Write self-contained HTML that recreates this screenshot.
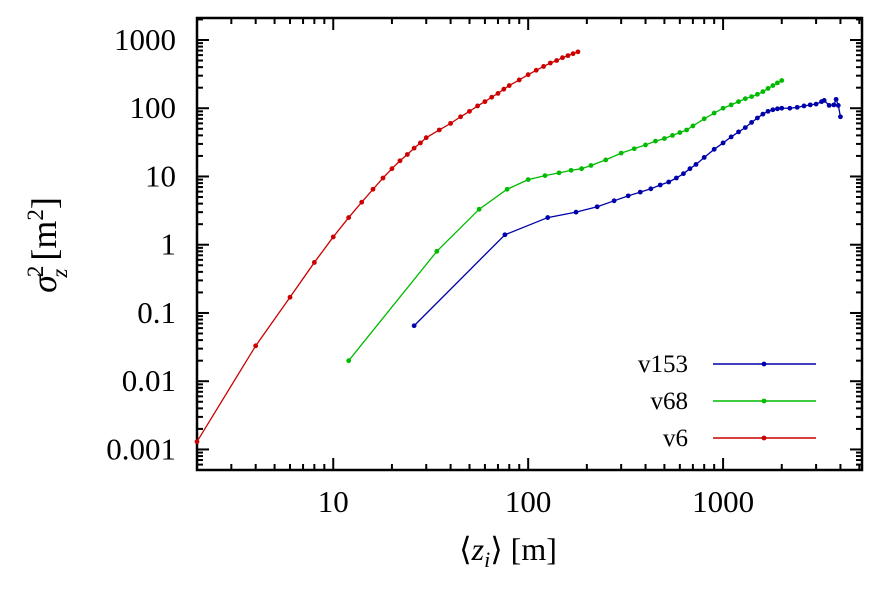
<!DOCTYPE html>
<html><head><meta charset="utf-8"><style>
body{margin:0;background:#fff}
svg, svg text{font-family:"Liberation Serif","Times New Roman",Times,serif}
svg text{fill:#000}
</style></head><body>
<svg id="c" width="880" height="588" font-family="Liberation Serif, Times New Roman, serif"></svg>
<script>
const redX=[2,4,6,8,10,12,14,16,18,20,22,24,26,28,30,35,40,45,50,55,60,65,70,75,80,90,100,110,120,130,140,150,160,170,180];
const redY=[0.0013,0.033,0.17,0.55,1.3,2.5,4.2,6.5,9.5,13,17,21,26,31,37,48,60,75,90,108,125,145,165,190,215,260,310,360,410,460,500,550,590,630,670];
const greenX=[12,34,56,78,100,122,144,166,188,210,250,300,350,400,450,500,550,600,650,700,800,900,1000,1100,1200,1300,1400,1500,1600,1700,1800,1900,2000];
const greenY=[0.02,0.8,3.3,6.5,9,10.3,11.3,12.3,13,14.5,17.5,22,25.5,29,33,36,40,44,48,55,70,85,100,112,125,138,148,160,175,195,215,235,255];
const blueX=[26,76,126,176,226,276,326,376,426,476,526,576,626,676,726,800,900,1000,1100,1200,1300,1400,1500,1600,1700,1800,1900,2000,2200,2400,2600,2800,3000,3200,3300,3500,3700,3800,3900,4000];
const blueY=[0.065,1.4,2.5,3,3.6,4.4,5.2,5.9,6.6,7.5,8.3,9.5,11,13,15,19,25,31,38,45,52,62,72,82,90,95,98,100,100,103,108,112,115,125,130,110,112,135,110,75];
const xTicks=[10,100,1000], xTickLabels=["10","100","1000"];
const yTicks=[0.001,0.01,0.1,1,10,100,1000], yTickLabels=["0.001","0.01","0.1","1","10","100","1000"];
const L=197,R=862,T=18,B=470,xmin=2,xmax=5160,ymin=0.0005,ymax=2100;
const sx=v=>L+(Math.log10(v)-Math.log10(xmin))/(Math.log10(xmax)-Math.log10(xmin))*(R-L);
const sy=v=>B-(Math.log10(v)-Math.log10(ymin))/(Math.log10(ymax)-Math.log10(ymin))*(B-T);
const svg=document.getElementById('c');const NS='http://www.w3.org/2000/svg';
function mk(t,a,p){const e=document.createElementNS(NS,t);for(const k in a)e.setAttribute(k,a[k]);(p||svg).appendChild(e);return e;}
for(let d=0;d<=3;d++)for(let m=1;m<10;m++){const v=m*Math.pow(10,d);if(v<xmin||v>xmax)continue;const x=sx(v),len=m==1?12:6;
const t=mk('line',{x1:x,x2:x,y1:B,y2:B-len,stroke:'#000','stroke-width':2});
const t2=mk('line',{x1:x,x2:x,y1:T,y2:T+len,stroke:'#000','stroke-width':2});}
for(let d=-4;d<=3;d++)for(let m=1;m<10;m++){const v=m*Math.pow(10,d);if(v<ymin||v>ymax)continue;const y=sy(v),len=m==1?12:6;
const t=mk('line',{x1:L,x2:L+len,y1:y,y2:y,stroke:'#000','stroke-width':2});
const t2=mk('line',{x1:R,x2:R-len,y1:y,y2:y,stroke:'#000','stroke-width':2});}
xTicks.forEach((v,i)=>{const t=mk('text',{x:sx(v),y:512,'text-anchor':'middle','font-size':31,'font-family':'Liberation Serif, serif'});t.textContent=xTickLabels[i];});
yTicks.forEach((v,i)=>{const t=mk('text',{x:176,y:sy(v)+10,'text-anchor':'end','font-size':31,'font-family':'Liberation Serif, serif'});t.textContent=yTickLabels[i];});
const fr=mk('rect',{x:L,y:T,width:R-L,height:B-T,fill:'none',stroke:'#000','stroke-width':2.5});
function series(xs,ys,col,name){const g=mk('g',{});
mk('polyline',{points:xs.map((x,i)=>sx(x)+','+sy(ys[i])).join(' '),fill:'none',stroke:col,'stroke-width':1.3},g);
xs.forEach((x,i)=>{const c=mk('circle',{cx:sx(x),cy:sy(ys[i]),r:2.4,fill:col},g);});}
series(redX,redY,'#cc0000','series-v6');
series(greenX,greenY,'#00bb00','series-v68');
series(blueX,blueY,'#0000aa','series-v153');
[['v153','#0000aa',364],['v68','#00bb00',401],['v6','#cc0000',438]].forEach(([n,c,y])=>{const g=mk('g',{});
const t=mk('text',{x:688,y:y+8,'text-anchor':'end','font-size':25,'font-family':'Liberation Serif, serif'},g);t.textContent=n;
mk('line',{x1:713,x2:816,y1:y,y2:y,stroke:c,'stroke-width':1.5},g);mk('circle',{cx:764,cy:y,r:2.4,fill:c},g);});
</script>
<svg style="position:absolute;left:0;top:0" width="880" height="588" font-family="Liberation Serif, serif">
<text x="508" y="560" text-anchor="middle" font-size="32">⟨<tspan font-style="italic">z</tspan><tspan font-style="italic" font-size="22" dy="7">i</tspan><tspan dy="-7">⟩ [m]</tspan></text>
<g transform="translate(56,245) rotate(-90)"><text x="0" y="0" text-anchor="middle" font-size="36"><tspan font-style="italic">σ</tspan><tspan font-size="23" dy="-13" dx="-2">2</tspan><tspan font-size="23" font-style="italic" dy="24" dx="-12">z</tspan><tspan dy="-11" dx="8">[m</tspan><tspan font-size="23" dy="-13">2</tspan><tspan dy="13">]</tspan></text></g>
</svg>
</body></html>
